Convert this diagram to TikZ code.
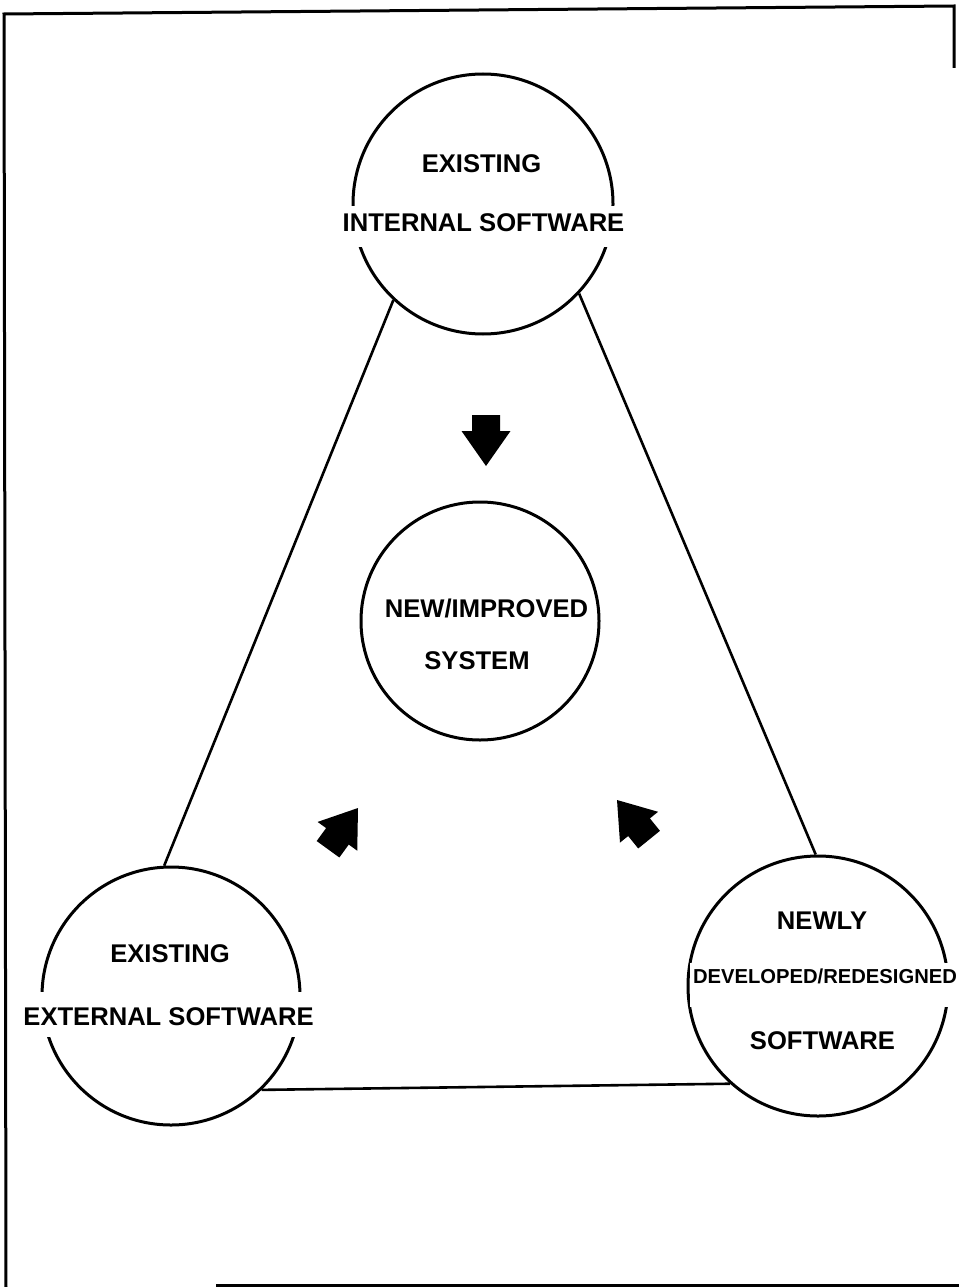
\documentclass[tikz,border=0pt]{standalone}
\usepackage{fontspec}
\setmainfont{Liberation Sans}
\tikzset{
  ring/.style={circle,draw,line width=3pt,inner sep=0pt},
  link/.style={line width=2.6pt},
  framing/.style={line width=3pt},
  lbl/.style={font=\bfseries\fontsize{25.6}{30}\selectfont,inner sep=0pt,anchor=base},
  cutlbl/.style={lbl,fill=white,inner xsep=3pt},
  blockarrow/.pic={\fill[black] (0,0) -- (-35,-24.5) -- (-35,-14) -- (-51,-14) -- (-51,14) -- (-35,14) -- (-35,24.5) -- cycle;}
}
\begin{document}
\begin{tikzpicture}[x=1pt,y=-1pt]
\useasboundingbox (0,0) rectangle (959,1287);
% frame
\draw[framing] (954,68) -- (954,6) -- (4,14) -- (6,1287);
\draw[framing] (216,1285.5) -- (959,1285.5);
% circles
\node[ring,minimum size=260pt] (top) at (483,204) {};
\node[ring,minimum size=238pt] (mid) at (480,621) {};
\node[ring,minimum size=258pt] (left) at (171,996) {};
\node[ring,minimum size=260pt] (right) at (818,986) {};
% connectors
\draw[link] (top.227) -- (left.93);
\draw[link] (top.317) -- (right.91);
\draw[link] (left.314) -- (right.228);
% labels
\node[lbl] (t1) at (481.5,172) {EXISTING};
\node[cutlbl,text height=25pt,text depth=16pt] (t2) at (483.5,231) {INTERNAL SOFTWARE};
\node[lbl] (t3) at (486.5,617) {NEW/IMPROVED};
\node[lbl] (t4) at (477,669) {SYSTEM};
\node[lbl] (t5) at (170,962) {EXISTING};
\node[cutlbl,text height=33pt,text depth=12pt] (t6) at (168.5,1025) {EXTERNAL SOFTWARE};
\node[lbl] (t7) at (822,929) {NEWLY};
\node[cutlbl,font=\bfseries\fontsize{20.2}{24}\selectfont,text height=20pt,text depth=24pt] (t8) at (825,983) {DEVELOPED/REDESIGNED};
\node[lbl] (t9) at (822.5,1049) {SOFTWARE};
% block arrows
\pic (a1) [rotate=-90] at (486,466) {blockarrow};
\pic (a2) [rotate=54] at (358,808) {blockarrow};
\pic (a3) [rotate=129] at (617,800) {blockarrow};
\end{tikzpicture}
\end{document}
